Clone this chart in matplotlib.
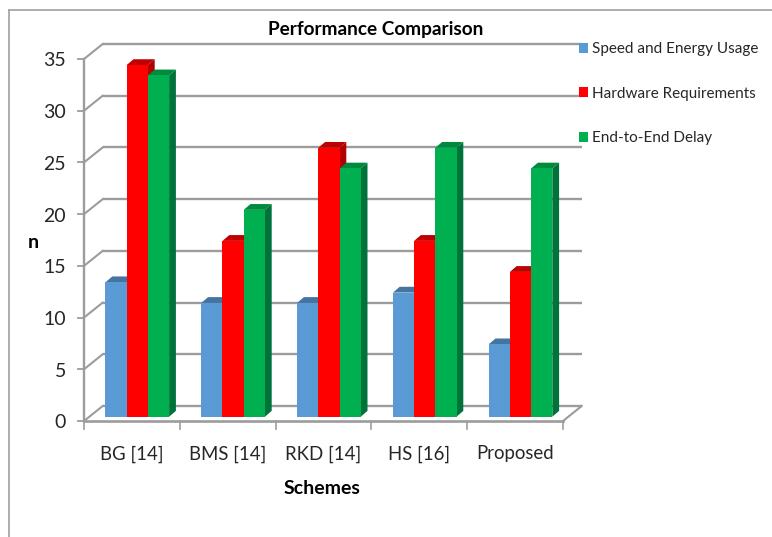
import numpy as np
import matplotlib
matplotlib.use('Agg')
import matplotlib.pyplot as plt
from matplotlib.patches import Polygon, Rectangle
from matplotlib.transforms import Affine2D

schemes = ['BG [14]', 'BMS [14]', 'RKD [14]', 'HS [16]', 'Proposed']
speed_energy = [13, 11, 11, 12, 7]
hardware = [34, 17, 26, 17, 14]
delay = [33, 20, 24, 26, 24]
series_names = ['Speed and Energy Usage', 'Hardware Requirements', 'End-to-End Delay']
y_ticks = [0, 5, 10, 15, 20, 25, 30, 35]

front_colors = ['#5B9BD5', '#FF0000', '#00B050']
top_colors = ['#44749F', '#BE0000', '#008A3E']
side_colors = ['#3E6C97', '#B00000', '#00733A']
grid_color = '#9C9C9C'
text_color = '#262626'

W, H = 772, 537
plt.rcParams['font.family'] = ['Lato', 'DejaVu Sans']

fig = plt.figure(figsize=(W / 100, H / 100), dpi=100)
# axes box is the front plane of the fake 3d chart
ax = fig.add_axes([84 / W, 1 - 421 / H, 479 / W, 362 / H])
ax.set_xlim(0, 5)
ax.set_ylim(0, 35)
ax.axis('off')

# pixel offsets: back wall, bar front face, bar depth
back = Affine2D().translate(18.7, 15)
bar_dx, bar_dy = 5.4, 4.3
depth_dx, depth_dy = 6.8, 5.8
to_px = ax.transData
bar_shift = to_px + Affine2D().translate(bar_dx, bar_dy)
px = 5 / 479.0
py = 35 / 362.0

# gridlines on the back wall and the diagonals on the left wall
for v in y_ticks:
    ax.plot([0, 5], [v, v], color=grid_color, lw=1.7, clip_on=False,
            transform=to_px + back, solid_capstyle='butt', zorder=1)
    ax.plot([0, 18.7 * px], [v, v + 15 * py], color=grid_color, lw=1.5,
            clip_on=False, zorder=1)
    ax.plot([-6 * px, 0], [v, v], color=grid_color, lw=1.3, clip_on=False, zorder=1)

# floor and front axes
ax.plot([0, 0], [0, 35], color=grid_color, lw=1.7, clip_on=False, zorder=1)
ax.plot([0, 5], [0, 0], color=grid_color, lw=1.9, clip_on=False, zorder=1)
ax.plot([5, 5 + 18.7 * px], [0, 15 * py], color=grid_color, lw=1.5, clip_on=False, zorder=1)
for k in range(6):
    ax.plot([k, k], [0, -8 * py], color=grid_color, lw=1.2, clip_on=False, zorder=1)

# bars, each one with its top and side faces
all_series = [speed_energy, hardware, delay]
bar_w = 0.2213
z = 3
for s, values in enumerate(all_series):
    x_pos = np.arange(5) + 0.5 + (s - 1) * bar_w
    for x, v in zip(x_pos, values):
        left = x - bar_w / 2
        right = x + bar_w / 2
        ddx = depth_dx * px
        ddy = depth_dy * py
        top = Polygon([(left, v), (right, v), (right + ddx, v + ddy), (left + ddx, v + ddy)],
                      closed=True, fc=top_colors[s], ec='none', transform=bar_shift,
                      clip_on=False, zorder=z)
        side = Polygon([(right, 0), (right + ddx, ddy), (right + ddx, v + ddy), (right, v)],
                       closed=True, fc=side_colors[s], ec='none', transform=bar_shift,
                       clip_on=False, zorder=z)
        ax.add_patch(top)
        ax.add_patch(side)
    ax.bar(x_pos, values, width=bar_w, color=front_colors[s], transform=bar_shift,
           clip_on=False, zorder=z + 1)
    z += 2

# axis text
for v in y_ticks:
    ax.text(-18 * px, v - 2 * py, str(v), ha='right', va='center', fontsize=14, color=text_color)
for k, name in enumerate(schemes):
    ax.text(k + 0.5, -33 * py, name, ha='center', va='center', fontsize=13.4, color=text_color)

fig.text(376 / W, 1 - 30 / H, 'Performance Comparison', ha='center', va='center',
         fontsize=13.7, fontweight='bold', color='black')
fig.text(322.5 / W, 1 - 489 / H, 'Schemes', ha='center', va='center',
         fontsize=14, fontweight='bold', color='black')
fig.text(33 / W, 1 - 242 / H, 'n', ha='center', va='center',
         fontsize=14, fontweight='bold', color='black')

# legend entries
legend_y = [48, 92, 137]
for name, c, y in zip(series_names, front_colors, legend_y):
    fig.add_artist(Rectangle((579 / W, 1 - (y + 4.5) / H), 9 / W, 9 / H, fc=c, ec='none',
                             transform=fig.transFigure))
    fig.text(592 / W, 1 - (y + 1.5) / H, name, ha='left', va='center', fontsize=11, color=text_color)

# outer border, left and top only
fig.add_artist(plt.Line2D([8.5 / W, 8.5 / W], [0, 1 - 9.5 / H], color='#A0A0A0', lw=1.2))
fig.add_artist(plt.Line2D([8.5 / W, 1], [1 - 9.5 / H, 1 - 9.5 / H], color='#A0A0A0', lw=1.2))

plt.savefig('out.png', dpi=100)
